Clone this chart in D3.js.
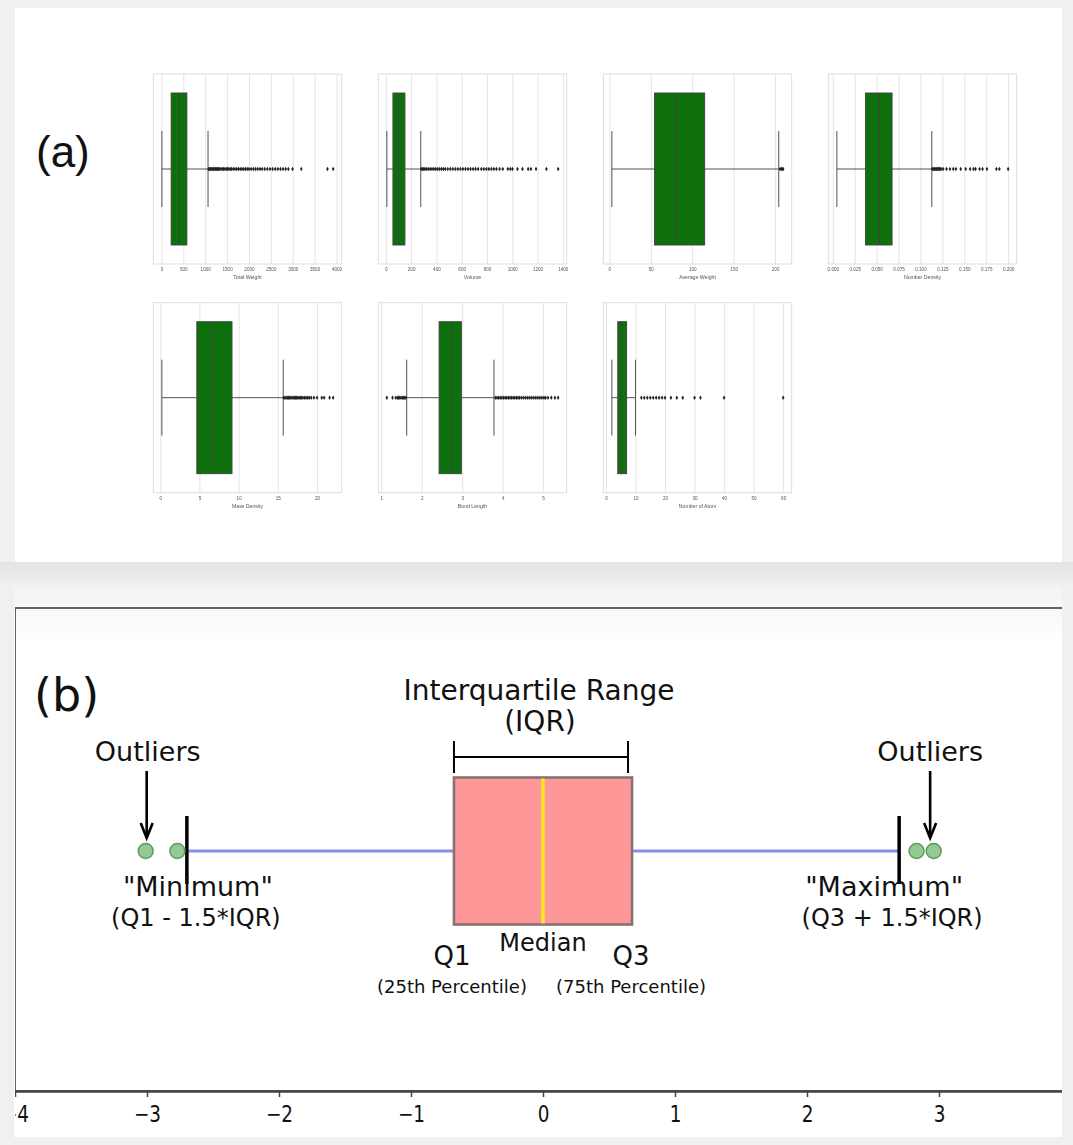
<!DOCTYPE html>
<html>
<head>
<meta charset="utf-8">
<script src="https://cdn.jsdelivr.net/npm/d3@7"></script>
<style>
  html, body { margin: 0; padding: 0; background: #f0f0f0; }
  svg { display: block; }
</style>
</head>
<body>
<svg id="fig" width="1073" height="1145"></svg>
<script>
// ---------- (a) descriptor distributions ----------
const descriptorNames = ["Total Weight", "Volume", "Average Weight", "Number Density",
                         "Mass Density", "Bond Length", "Number of Atom"];
const descriptorTicks = [
  [0, 500, 1000, 1500, 2000, 2500, 3000, 3500, 4000],
  [0, 200, 400, 600, 800, 1000, 1200, 1400],
  [0, 50, 100, 150, 200],
  [0, 0.025, 0.05, 0.075, 0.1, 0.125, 0.15, 0.175, 0.2],
  [0, 5, 10, 15, 20],
  [1, 2, 3, 4, 5],
  [0, 10, 20, 30, 40, 50, 60]
];
const tickFormats = ["d", "d", "d", ".3f", "d", "d", "d"];
// lower whisker, Q1, median, Q3, upper whisker
const descriptorStats = [
  [10, 222, 398, 582, 1065],
  [8, 56, 98, 151, 276],
  [3, 54.4, 81.5, 115, 204.4],
  [0.0046, 0.0372, 0.053, 0.0676, 0.1129],
  [0.2, 4.66, 6.75, 9.15, 15.68],
  [1.63, 2.43, 2.74, 2.98, 3.785],
  [2, 4, 5, 7, 10]
];
const totalWeightOutliers = [1080, 1100, 1120, 1140, 1160, 1180, 1200, 1220, 1240, 1260, 1280, 1300,
  1330, 1360, 1390, 1420, 1450, 1480, 1510, 1540, 1570, 1600, 1640, 1680, 1720, 1760, 1800, 1840,
  1880, 1920, 1960, 2000, 2050, 2100, 2150, 2200, 2250, 2300, 2360, 2420, 2480, 2540, 2600, 2660,
  2720, 2780, 2840, 2900, 2996, 3195, 3793, 3923];
const volumeOutliers = [280, 290, 300, 310, 320, 335, 350, 365, 380, 395, 410, 425, 440, 455, 470,
  490, 510, 530, 550, 570, 590, 610, 630, 650, 670, 690, 710, 730, 755, 775, 795, 815, 835, 855,
  875, 900, 925, 965, 985, 1002, 1041, 1081, 1126, 1148, 1188, 1270, 1363];
const averageWeightOutliers = [206, 207.5, 208.5, 209.7];
const numberDensityOutliers = [0.1135, 0.1145, 0.1155, 0.1165, 0.1175, 0.1185, 0.1195, 0.1205,
  0.1215, 0.1225, 0.1235, 0.1259, 0.1297, 0.1336, 0.1374, 0.1405, 0.1459, 0.1516, 0.1566, 0.1605,
  0.1628, 0.1674, 0.1708, 0.1758, 0.1866, 0.19, 0.2];
const massDensityOutliers = [15.75, 15.9, 16.05, 16.2, 16.35, 16.5, 16.65, 16.8, 16.95, 17.1, 17.25,
  17.4, 17.55, 17.7, 17.85, 18.0, 18.2, 18.4, 18.6, 18.8, 19.0, 19.25, 19.6, 20.0, 20.6, 20.9, 21.6, 22.05];
const bondLengthOutliers = [1.14, 1.28, 1.36, 1.40, 1.43, 1.46, 1.49, 1.52, 1.55, 1.58, 1.61,
  3.82, 3.86, 3.90, 3.94, 3.98, 4.02, 4.06, 4.10, 4.14, 4.18, 4.22, 4.26, 4.30, 4.34, 4.38, 4.42,
  4.47, 4.52, 4.57, 4.62, 4.67, 4.72, 4.77, 4.82, 4.87, 4.92, 4.97, 5.02, 5.06, 5.12, 5.2, 5.29, 5.37];
const atomCountOutliers = [12, 13, 14, 15, 16, 17, 18, 19, 20, 22, 24, 26, 30, 32, 40, 60];
const descriptorOutliers = [totalWeightOutliers, volumeOutliers, averageWeightOutliers,
  numberDensityOutliers, massDensityOutliers, bondLengthOutliers, atomCountOutliers];

// ---------- (b) anatomy of a box plot (standard normal) ----------
const boxQuartiles = [-0.6745, 0, 0.6745];   // Q1, median, Q3
const whiskerEnds = [-2.698, 2.698];        // Q1 - 1.5*IQR, Q3 + 1.5*IQR
const outlierValues = [-3.01, -2.77, 2.83, 2.96];
const axisTicks = [-4, -3, -2, -1, 0, 1, 2, 3];

const svg = d3.select("#fig");
const defs = svg.append("defs");

defs.append("filter").attr("id", "soft")
  .attr("x", "-5%").attr("y", "-5%").attr("width", "110%").attr("height", "110%")
  .append("feGaussianBlur").attr("stdDeviation", 0.4);

const shadow = defs.append("linearGradient").attr("id", "shadow")
  .attr("x1", 0).attr("y1", 0).attr("x2", 0).attr("y2", 1);
shadow.append("stop").attr("offset", 0).attr("stop-color", "#e3e3e3");
shadow.append("stop").attr("offset", 1).attr("stop-color", "#efefef");

const haze = defs.append("linearGradient").attr("id", "haze")
  .attr("x1", 0).attr("y1", 0).attr("x2", 0).attr("y2", 1);
haze.append("stop").attr("offset", 0).attr("stop-color", "#f2f2f2");
haze.append("stop").attr("offset", 1).attr("stop-color", "#ffffff");

defs.append("clipPath").attr("id", "clipB")
  .append("rect").attr("x", 15).attr("y", 590).attr("width", 1047).attr("height", 550);

// page and cards
svg.append("rect").attr("width", 1073).attr("height", 1145).attr("fill", "#f0f0f0");
svg.append("rect").attr("x", 0).attr("y", 562).attr("width", 1073).attr("height", 23).attr("fill", "url(#shadow)");
svg.append("rect").attr("x", 15).attr("y", 8).attr("width", 1047).attr("height", 554).attr("fill", "#ffffff");
svg.append("rect").attr("x", 14).attr("y", 585).attr("width", 1048).attr("height", 552).attr("fill", "#ffffff");
svg.append("rect").attr("x", 14).attr("y", 585).attr("width", 1048).attr("height", 55).attr("fill", "url(#haze)");

// ---------- panel (a) ----------
svg.append("text").attr("x", 36).attr("y", 167)
  .attr("font-family", "Liberation Sans, Arial, sans-serif").attr("font-size", 44)
  .attr("fill", "#111").text("(a)");

const panelA = svg.append("g").attr("filter", "url(#soft)");
const subW = 188.4, subH = 190;

descriptorNames.forEach((name, i) => {
  const col = i % 4, row = Math.floor(i / 4);
  const left = 153.3 + col * 225, top = 74 + row * 228.7;
  const st = descriptorStats[i], out = descriptorOutliers[i];
  const lo = d3.min([st[0], ...out]), hi = d3.max([st[4], ...out]);
  const pad = (hi - lo) * 0.05;
  const x = d3.scaleLinear().domain([lo - pad, hi + pad]).range([left, left + subW]);
  const y = d3.scaleLinear().domain([-0.5, 0.5]).range([top, top + subH]);
  const g = panelA.append("g");

  g.append("rect").attr("x", left).attr("y", top).attr("width", subW).attr("height", subH)
    .attr("fill", "#fff");

  const ax = g.append("g").attr("transform", `translate(0,${top + subH})`)
    .call(d3.axisBottom(x).tickValues(descriptorTicks[i]).tickSize(-subH).tickPadding(4)
      .tickFormat(d3.format(tickFormats[i])));
  ax.select(".domain").remove();
  ax.selectAll("line").attr("stroke", "#e2e2e2").attr("stroke-width", 0.9);
  ax.selectAll("text").attr("font-family", "Liberation Sans, Arial, sans-serif")
    .attr("font-size", 4.6).attr("fill", "#555");

  g.append("rect").attr("x", left).attr("y", top).attr("width", subW).attr("height", subH)
    .attr("fill", "none").attr("stroke", "#dadada").attr("stroke-width", 0.9);

  const edge = "#3f3f3f";
  // whiskers
  g.append("line").attr("x1", x(st[0])).attr("x2", x(st[1])).attr("y1", y(0)).attr("y2", y(0))
    .attr("stroke", edge).attr("stroke-width", 0.9);
  g.append("line").attr("x1", x(st[3])).attr("x2", x(st[4])).attr("y1", y(0)).attr("y2", y(0))
    .attr("stroke", edge).attr("stroke-width", 0.9);
  [st[0], st[4]].forEach(v => {
    g.append("line").attr("x1", x(v)).attr("x2", x(v)).attr("y1", y(-0.2)).attr("y2", y(0.2))
      .attr("stroke", edge).attr("stroke-width", 0.9);
  });
  // box and median
  g.append("rect").attr("x", x(st[1])).attr("y", y(-0.4))
    .attr("width", x(st[3]) - x(st[1])).attr("height", y(0.4) - y(-0.4))
    .attr("fill", "#107010").attr("stroke", edge).attr("stroke-width", 0.9);
  g.append("line").attr("x1", x(st[2])).attr("x2", x(st[2])).attr("y1", y(-0.4)).attr("y2", y(0.4))
    .attr("stroke", edge).attr("stroke-width", 0.9);
  // fliers
  const diamond = d3.symbol(d3.symbolDiamond, 6);
  g.selectAll("path.flier").data(out).join("path").attr("class", "flier")
    .attr("d", diamond).attr("transform", d => `translate(${x(d)},${y(0)})`)
    .attr("fill", "#222");

  g.append("text").attr("x", left + subW / 2).attr("y", top + subH + 15)
    .attr("text-anchor", "middle").attr("font-family", "Liberation Sans, Arial, sans-serif")
    .attr("font-size", 5.2).attr("fill", "#555").text(name);
});

// ---------- panel (b) ----------
const bx = d3.scaleLinear().domain([-4, 4]).range([15, 1071]);
const cy = 851, boxHalf = 73.5, capHalf = 33;
const font = "DejaVu Sans, Verdana, sans-serif";
const pb = svg.append("g").attr("clip-path", "url(#clipB)");

// frame
pb.append("rect").attr("x", 15).attr("y", 608).attr("width", 1056).attr("height", 483)
  .attr("fill", "none").attr("stroke", "#404040").attr("stroke-width", 1.6);

const axis = pb.append("g").attr("transform", "translate(0,1091)")
  .call(d3.axisBottom(bx).tickValues(axisTicks).tickSize(6).tickPadding(9).tickSizeOuter(0));
axis.select(".domain").attr("stroke", "#444").attr("stroke-width", 2.4);
axis.selectAll(".tick line").attr("stroke", "#444").attr("stroke-width", 1.5);
// tick labels are drawn slightly condensed; scaling about the tick origin keeps them centred
axis.selectAll(".tick text").attr("font-family", font).attr("font-size", 23).attr("fill", "#111")
  .attr("transform", "scale(0.8,1)");

// whiskers
pb.append("line").attr("x1", bx(whiskerEnds[0])).attr("x2", bx(boxQuartiles[0]))
  .attr("y1", cy).attr("y2", cy).attr("stroke", "#8c8cec").attr("stroke-width", 3);
pb.append("line").attr("x1", bx(boxQuartiles[2])).attr("x2", bx(whiskerEnds[1]))
  .attr("y1", cy).attr("y2", cy).attr("stroke", "#8c8cec").attr("stroke-width", 3);

// box
pb.append("rect").attr("x", bx(boxQuartiles[0])).attr("y", cy - boxHalf)
  .attr("width", bx(boxQuartiles[2]) - bx(boxQuartiles[0])).attr("height", 2 * boxHalf)
  .attr("fill", "#fe9797").attr("stroke", "#857272").attr("stroke-width", 2.6);
pb.append("line").attr("x1", bx(boxQuartiles[1])).attr("x2", bx(boxQuartiles[1]))
  .attr("y1", cy - boxHalf + 1).attr("y2", cy + boxHalf - 1)
  .attr("stroke", "#ffe81c").attr("stroke-width", 3.5);

// caps
whiskerEnds.forEach(v => {
  pb.append("line").attr("x1", bx(v)).attr("x2", bx(v)).attr("y1", cy - capHalf - 2).attr("y2", cy + capHalf)
    .attr("stroke", "#000").attr("stroke-width", 3.5);
});

// outliers
pb.selectAll("circle.out").data(outlierValues).join("circle").attr("class", "out")
  .attr("cx", d => bx(d)).attr("cy", cy).attr("r", 7.5)
  .attr("fill", "#93c993").attr("stroke", "#5f9a5f").attr("stroke-width", 1.5);

// IQR bracket
const qa = bx(boxQuartiles[0]), qb = bx(boxQuartiles[2]) - 4;
pb.append("path")
  .attr("d", `M${qa},741V773M${qa},757H${qb}M${qb},741V773`)
  .attr("fill", "none").attr("stroke", "#000").attr("stroke-width", 2);

// arrows to outliers
const arrowXs = [bx(outlierValues[0]) + 1, (bx(outlierValues[2]) + bx(outlierValues[3])) / 2 + 5];
arrowXs.forEach(ax0 => {
  pb.append("path").attr("d", `M${ax0},771V836`).attr("stroke", "#000").attr("stroke-width", 2.6)
    .attr("fill", "none");
  pb.append("path").attr("d", `M${ax0 - 6},823L${ax0},838L${ax0 + 6},823`)
    .attr("stroke", "#000").attr("stroke-width", 2.6).attr("fill", "none")
    .attr("stroke-linejoin", "miter");
});

function label(x, y, txt, size) {
  pb.append("text").attr("x", x).attr("y", y).attr("text-anchor", "middle")
    .attr("font-family", font).attr("font-size", size).attr("fill", "#111").text(txt);
}

pb.append("text").attr("x", 34).attr("y", 711).attr("font-family", font).attr("font-size", 46)
  .attr("fill", "#111").text("(b)");

label(bx(boxQuartiles[1]) - 4, 700, "Interquartile Range", 28);
label(bx(boxQuartiles[1]) - 3, 731, "(IQR)", 28);
label(arrowXs[0] + 1, 761, "Outliers", 27);
label(arrowXs[1], 761, "Outliers", 27);
label(bx(whiskerEnds[0]) + 11, 896, "\"Minimum\"", 27);
label(bx(whiskerEnds[0]) + 9, 926, "(Q1 - 1.5*IQR)", 24);
label(bx(whiskerEnds[1]) - 15, 896, "\"Maximum\"", 27);
label(bx(whiskerEnds[1]) - 7, 926, "(Q3 + 1.5*IQR)", 24);
label(bx(boxQuartiles[1]), 951, "Median", 24);
label(bx(boxQuartiles[0]) - 2, 965, "Q1", 26);
label(bx(boxQuartiles[2]) - 1, 965, "Q3", 26);
label(bx(boxQuartiles[0]) - 2, 993, "(25th Percentile)", 18);
label(bx(boxQuartiles[2]) - 1, 993, "(75th Percentile)", 18);
</script>
</body>
</html>
